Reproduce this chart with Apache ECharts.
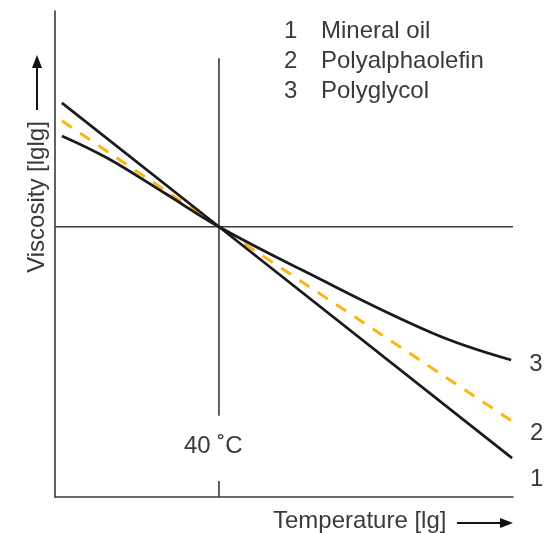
<!DOCTYPE html>
<html>
<head>
<meta charset="utf-8">
<script src="https://cdn.jsdelivr.net/npm/echarts@6/dist/echarts.min.js"></script>
<style>
html,body{margin:0;padding:0;background:#fff;}
#chart{width:544px;height:533px;}
</style>
</head>
<body>
<div id="chart"></div>
<script>
// Data (abstract log-log units)
const seriesNames = ['Mineral oil', 'Polyalphaolefin', 'Polyglycol'];
const seriesNumbers = ['1', '2', '3'];
const mineralOil = [[1.5, 81.1], [35.8, 55.6], [99.8, 8.0]];
const polyalphaolefin = [[1.5, 77.4], [35.8, 55.6], [99.8, 15.6]];
const polyglycol = [[1.5, 74.3], [11.3, 69.8], [24.0, 62.5], [35.8, 55.6], [53.5, 46.9], [82.5, 33.7], [99.6, 28.2]];
const refX = 35.8;      // 40 °C
const refY = 55.6;      // reference viscosity
const refLabel = '40 ˚C';
const xName = 'Temperature [lg]';
const yName = 'Viscosity [lglg]';

const chart = echarts.init(document.getElementById('chart'));
const FONT = 'Liberation Sans, Arial, sans-serif';
const FS = 24;
const TXT = '#3a3a3a';
const AX = '#3a3a3a';

function endLbl(n, dy) {
  return { show: true, formatter: n, fontSize: FS, fontFamily: FONT, color: TXT, offset: [10, dy] };
}

chart.setOption({
  animation: false,
  backgroundColor: '#fff',
  grid: { left: 55, right: 31, top: 11, bottom: 36 },
  xAxis: {
    type: 'value', min: 0, max: 100,
    axisLine: { show: true, lineStyle: { color: AX, width: 1.6 } },
    axisTick: { show: false }, axisLabel: { show: false }, splitLine: { show: false }
  },
  yAxis: {
    type: 'value', min: 0, max: 100,
    axisLine: { show: true, lineStyle: { color: AX, width: 1.6 } },
    axisTick: { show: false }, axisLabel: { show: false }, splitLine: { show: false }
  },
  series: [
    { type: 'line', data: [[0, refY], [100, refY]], symbol: 'none', lineStyle: { color: AX, width: 1.6 }, silent: true, z: 1 },
    { type: 'line', data: [[refX, 90.3], [refX, 16.7]], symbol: 'none', lineStyle: { color: AX, width: 1.6 }, silent: true, z: 1 },
    { type: 'line', data: [[refX, 3.3], [refX, 0]], symbol: 'none', lineStyle: { color: AX, width: 1.6 }, silent: true, z: 1 },
    { name: seriesNames[0], type: 'line', data: mineralOil, symbol: 'none',
      lineStyle: { color: '#1a1a1a', width: 2.7 }, endLabel: endLbl(seriesNumbers[0], 21), z: 3 },
    { name: seriesNames[1], type: 'line', data: polyalphaolefin, symbol: 'none',
      lineStyle: { color: '#FBB515', width: 3, type: [12, 10] }, endLabel: endLbl(seriesNumbers[1], 12), z: 2 },
    { name: seriesNames[2], type: 'line', data: polyglycol, symbol: 'none', smooth: 0.4,
      lineStyle: { color: '#1a1a1a', width: 2.7 }, endLabel: endLbl(seriesNumbers[2], 4), z: 3 }
  ],
  graphic: [
    // legend
    ...seriesNames.map((n, i) => ({ type: 'text', left: 284, top: 19 + i * 30,
      style: { text: seriesNumbers[i], font: FS + 'px ' + FONT, fill: TXT } })),
    ...seriesNames.map((n, i) => ({ type: 'text', left: 321, top: 19 + i * 30,
      style: { text: n, font: FS + 'px ' + FONT, fill: TXT } })),
    // 40 °C label
    { type: 'text', left: 184, top: 434, style: { text: refLabel, font: FS + 'px ' + FONT, fill: TXT } },
    // x axis name + arrow
    { type: 'text', left: 273, top: 509, style: { text: xName, font: FS + 'px ' + FONT, fill: TXT } },
    { type: 'line', shape: { x1: 457, y1: 523, x2: 505, y2: 523 }, style: { stroke: '#111', lineWidth: 2 } },
    { type: 'polygon', shape: { points: [[513, 523], [500, 518], [500, 528]] }, style: { fill: '#111' } },
    // y axis name + arrow
    { type: 'text', x: 37, y: 197, rotation: Math.PI / 2,
      style: { text: yName, font: FS + 'px ' + FONT, fill: TXT, align: 'center', verticalAlign: 'middle' } },
    { type: 'line', shape: { x1: 37, y1: 110, x2: 37, y2: 64 }, style: { stroke: '#111', lineWidth: 2 } },
    { type: 'polygon', shape: { points: [[37, 55], [32, 68], [42, 68]] }, style: { fill: '#111' } }
  ]
});
</script>
</body>
</html>
